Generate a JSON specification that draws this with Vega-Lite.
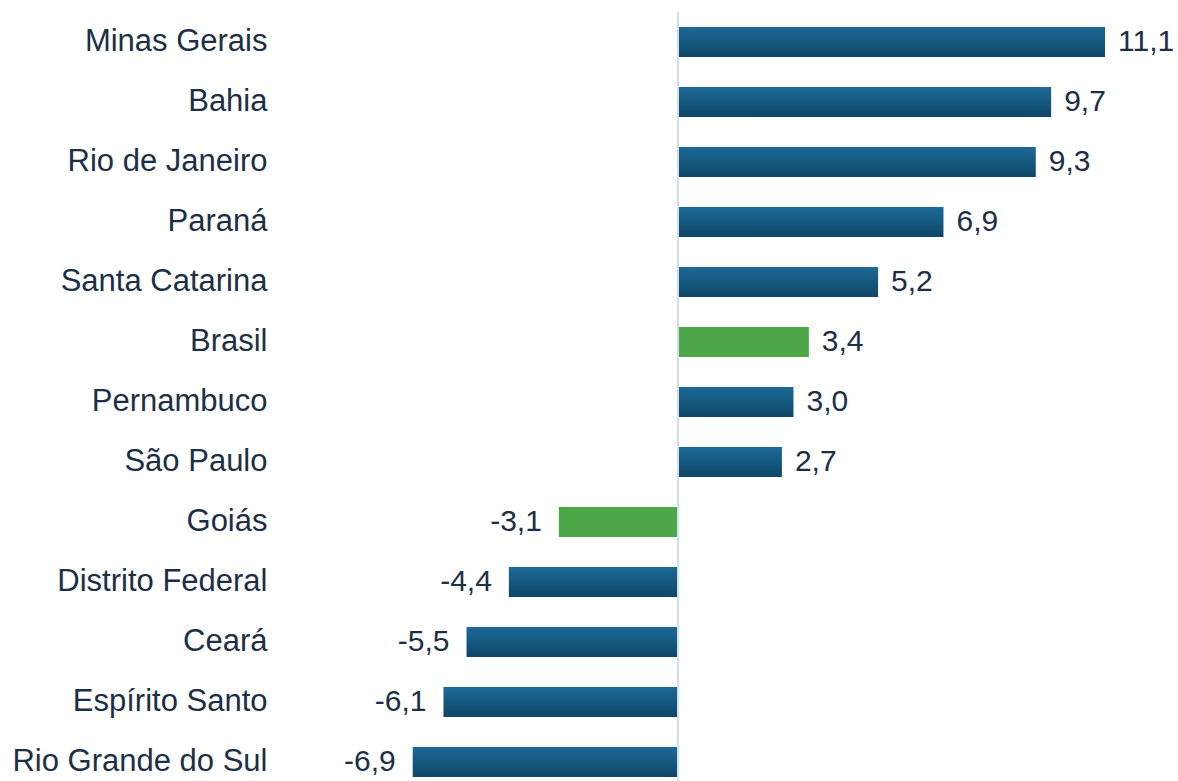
{
  "$schema": "https://vega.github.io/schema/vega-lite/v6.json",
  "width": 890,
  "height": 780,
  "autosize": {"type": "none"},
  "padding": {"left": 280, "top": 12, "right": 8, "bottom": 0},
  "background": "white",
  "data": {
    "values": [
      {"estado": "Minas Gerais", "value": 11.1, "label": "11,1", "grupo": "estado"},
      {"estado": "Bahia", "value": 9.7, "label": "9,7", "grupo": "estado"},
      {"estado": "Rio de Janeiro", "value": 9.3, "label": "9,3", "grupo": "estado"},
      {"estado": "Paraná", "value": 6.9, "label": "6,9", "grupo": "estado"},
      {"estado": "Santa Catarina", "value": 5.2, "label": "5,2", "grupo": "estado"},
      {"estado": "Brasil", "value": 3.4, "label": "3,4", "grupo": "destaque"},
      {"estado": "Pernambuco", "value": 3.0, "label": "3,0", "grupo": "estado"},
      {"estado": "São Paulo", "value": 2.7, "label": "2,7", "grupo": "estado"},
      {"estado": "Goiás", "value": -3.1, "label": "-3,1", "grupo": "destaque"},
      {"estado": "Distrito Federal", "value": -4.4, "label": "-4,4", "grupo": "estado"},
      {"estado": "Ceará", "value": -5.5, "label": "-5,5", "grupo": "estado"},
      {"estado": "Espírito Santo", "value": -6.1, "label": "-6,1", "grupo": "estado"},
      {"estado": "Rio Grande do Sul", "value": -6.9, "label": "-6,9", "grupo": "estado"}
    ]
  },
  "encoding": {
    "y": {
      "field": "estado",
      "type": "nominal",
      "sort": ["Minas Gerais", "Bahia", "Rio de Janeiro", "Paraná", "Santa Catarina", "Brasil", "Pernambuco", "São Paulo", "Goiás", "Distrito Federal", "Ceará", "Espírito Santo", "Rio Grande do Sul"],
      "scale": {"paddingInner": 0.5, "paddingOuter": 0.25},
      "axis": {
        "title": null,
        "domain": false,
        "ticks": false,
        "labelFontSize": 31,
        "labelFont": "Liberation Sans",
        "labelColor": "#1c2f46",
        "labelPadding": 13,
        "labelLimit": 400
      }
    }
  },
  "layer": [
    {
      "transform": [{"filter": "datum.grupo === 'estado'"}],
      "mark": {
        "type": "bar",
        "fill": {
          "gradient": "linear",
          "x1": 0, "y1": 0, "x2": 0, "y2": 1,
          "stops": [
            {"offset": 0, "color": "#1b6a96"},
            {"offset": 1, "color": "#0f4668"}
          ]
        }
      },
      "encoding": {
        "x": {
          "field": "value",
          "type": "quantitative",
          "scale": {"domain": [-10.35, 12.79], "nice": false, "zero": false},
          "axis": null
        }
      }
    },
    {
      "transform": [{"filter": "datum.grupo === 'destaque'"}],
      "mark": {"type": "bar", "color": "#4da84a"},
      "encoding": {
        "x": {"field": "value", "type": "quantitative"}
      }
    },
    {
      "mark": {"type": "rule", "color": "#cfe0ef", "strokeWidth": 1.5},
      "encoding": {"x": {"datum": 0, "type": "quantitative"}, "y": null}
    },
    {
      "transform": [{"filter": "datum.value >= 0"}],
      "mark": {"type": "text", "align": "left", "dx": 13, "fontSize": 30, "font": "Liberation Sans", "color": "#1c2f46", "baseline": "middle"},
      "encoding": {
        "x": {"field": "value", "type": "quantitative"},
        "text": {"field": "label"}
      }
    },
    {
      "transform": [{"filter": "datum.value < 0"}],
      "mark": {"type": "text", "align": "right", "dx": -17, "fontSize": 30, "font": "Liberation Sans", "color": "#1c2f46", "baseline": "middle"},
      "encoding": {
        "x": {"field": "value", "type": "quantitative"},
        "text": {"field": "label"}
      }
    }
  ],
  "config": {"view": {"stroke": null}}
}
